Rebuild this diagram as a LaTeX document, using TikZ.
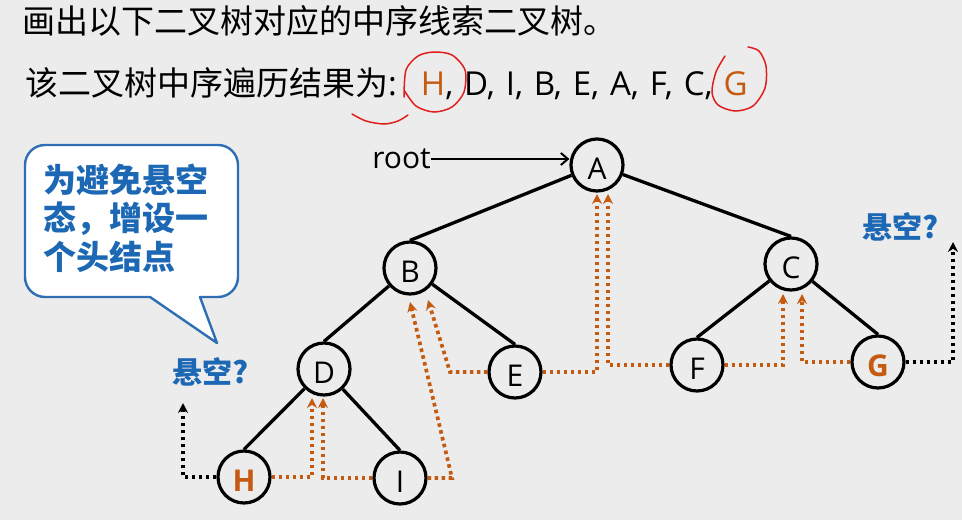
\documentclass[tikz,border=0pt]{standalone}
\usepackage{fontspec}
\setmainfont{Open Sans}
\newfontfamily\cjk{Noto Sans CJK SC}
\usetikzlibrary{arrows.meta,calc}
\definecolor{bg}{RGB}{236,236,236}
\definecolor{thr}{RGB}{197,90,17}
\definecolor{callblue}{RGB}{28,104,180}
\definecolor{boxblue}{RGB}{46,110,180}
\definecolor{ann}{RGB}{225,30,30}
\newcommand{\isep}{,\hskip 10.8pt}
\begin{document}
\begin{tikzpicture}[x=1pt,y=-1pt,
  tn/.style={circle,draw=black,line width=3.2pt,minimum size=52pt,inner sep=0pt,
    font=\fontsize{30}{30}\selectfont,text height=29pt,text depth=0pt},
  tedge/.style={line width=3.3pt,draw=black},
  thrd/.style={draw=thr,line width=3.7pt,dash pattern=on 3.6pt off 3.4pt,
    -{Stealth[length=10pt,width=10pt]}},
  nullthrd/.style={thrd,draw=black},
  annot/.style={draw=ann,line width=1.5pt,line cap=round},
  nulllabel/.style={text=callblue,font=\cjk\bfseries\fontsize{30}{30}\selectfont,inner sep=0pt}
]
\useasboundingbox (0,0) rectangle (962,520);
\fill[bg] (0,0) rectangle (962,520);

% title lines
\node[anchor=west,inner sep=0pt,font=\cjk\fontsize{33}{33}\selectfont] (title) at (22,21)
  {画出以下二叉树对应的中序线索二叉树。};
\node[anchor=west,inner sep=0pt,font=\fontsize{33}{33}\selectfont] (seq) at (25,84)
  {{\cjk 该二叉树中序遍历结果为}:\hskip 24pt\textcolor{thr}{H}\isep D\isep I\isep B\isep E\isep A\isep F\isep C\isep\textcolor{thr}{G}};

% red hand annotations
\draw[annot] plot[smooth] coordinates {(404,97) (406,70) (418,56) (434,52) (452,55) (465,70) (464,92) (452,107) (434,112) (416,106) (404,90)};
\draw[annot] plot[smooth] coordinates {(352,114) (366,121) (384,124) (398,121) (408,115)};
\draw[annot] plot[smooth] coordinates {(725,56) (716,72) (712,92) (718,105) (735,111) (753,106) (765,88) (766,66) (759,51) (748,47)};

% tree nodes
\node[tn] (A) at (597,165) {A};
\node[tn] (B) at (410,268) {B};
\node[tn] (C) at (791,264) {C};
\node[tn] (D) at (324,369) {D};
\node[tn] (E) at (515,372) {E};
\node[tn] (F) at (697,365) {F};
\node[tn] (G) at (878,362) {\textbf{\textcolor{thr}{G}}};
\node[tn] (H) at (244,477) {\textbf{\textcolor{thr}{H}}};
\node[tn] (I) at (400,478) {I};

% tree edges
\draw[tedge] (A) -- (B.north);
\draw[tedge] (A) -- (C.north);
\draw[tedge] (B) -- (D.north);
\draw[tedge] (B) -- (E.north);
\draw[tedge] (C) -- (F.north);
\draw[tedge] (C) -- (G.north);
\draw[tedge] (D) -- (H.north);
\draw[tedge] (D) -- (I.north);

% root pointer
\node[inner sep=0pt,font=\fontsize{30}{30}\selectfont,anchor=east] (root) at (431,159) {root};
\draw[line width=2.2pt,-{Straight Barb[length=7pt,width=12pt,line width=2pt]}] (root.east) -- (root.east -| A.west);

% thread end coordinates
\coordinate (hdt) at (312,398);
\coordinate (idt) at (323,398);
\coordinate (ibk) at (452,478);
\coordinate (ibt) at (410,302);
\coordinate (ebk) at (450,372);
\coordinate (ebt) at (428,300);
\coordinate (eat) at (597,194);
\coordinate (fat) at (608,194);
\coordinate (fct) at (783,294);
\coordinate (gct) at (802,294);
\coordinate (hnt) at (183,403);
\coordinate (gnt) at (953,242);

% threads
\draw[thrd] (H.east) -| (hdt);
\draw[thrd] (I.west) -| (idt);
\draw[thrd] (I.east) -- (ibk) -- (ibt);
\draw[thrd] (E.west) -- (ebk) -- (ebt);
\draw[thrd] (E.east) -| (eat);
\draw[thrd] (F.west) -| (fat);
\draw[thrd] (F.east) -| (fct);
\draw[thrd] (G.west) -| (gct);
\draw[nullthrd] (H.west) -| (hnt);
\draw[nullthrd] (G.east) -| (gnt);

% null labels
\node[nulllabel] (nl) at (211,372) {悬空?};
\node[nulllabel] (nr) at (901,227) {悬空?};

% callout
\draw[draw=boxblue,fill=white,line width=2.4pt,line join=round]
  (150,297) [rounded corners=20pt] -- (25,297) -- (25,145) -- (238,145) -- (238,297)
  [sharp corners] -- (200,297) -- (217,343) -- cycle;
\node[anchor=west,inner sep=0pt,align=left,text=callblue,
  font=\cjk\bfseries\fontsize{33}{38.5}\selectfont] (calltext) at (43,218)
  {为避免悬空\\态，增设一\\个头结点};
\end{tikzpicture}
\end{document}
